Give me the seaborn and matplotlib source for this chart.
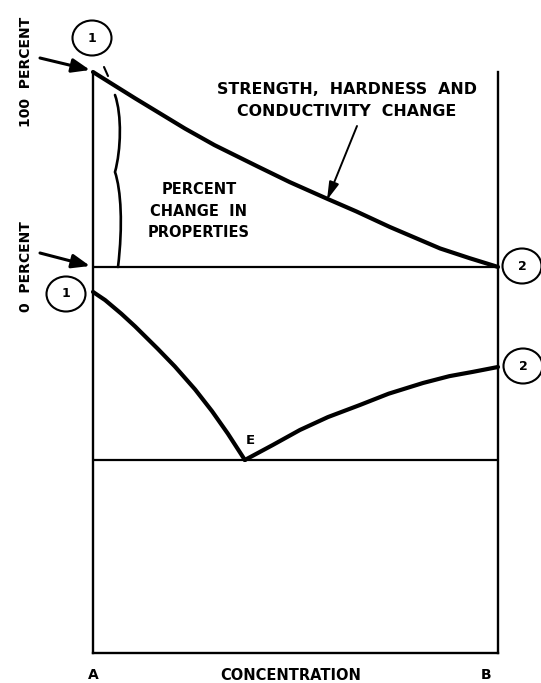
import matplotlib
matplotlib.use("Agg")
import matplotlib.pyplot as plt
from matplotlib.patches import Ellipse, PathPatch
from matplotlib.path import Path
from matplotlib.lines import Line2D
import matplotlib.transforms as mtransforms
import seaborn as sns
import pandas as pd

# ---- data (concentration in % of B, property / temperature in chart units) ----
conc_property = [0, 5, 10.4, 22.7, 30, 40.7, 48.6, 57.8, 65, 73.3, 85.7, 93, 100]
change_property = [100, 93.5, 86.5, 71, 62.5, 51.5, 43.5, 35, 28.5, 20.5, 9.5, 4.5, 0]

conc_liquidus_a = [0, 3, 7, 10.4, 16, 20.2, 25.2, 29.4, 33.3, 37.5]
temp_liquidus_a = [-12.8, -17, -24, -30.5, -42, -51, -62.8, -74, -85.5, -99]

conc_liquidus_b = [37.5, 44.4, 51.1, 58, 65.9, 73, 81.5, 88, 93.8, 100]
temp_liquidus_b = [-99, -91.3, -83.6, -77, -70.8, -65, -59.5, -56, -53.8, -51.3]

y_ticks = [0, 100]
y_tick_labels = ["0  PERCENT", "100  PERCENT"]
x_ticks = [0, 100]
x_tick_labels = ["A", "B"]
x_label = "CONCENTRATION"
y_range = (-198, 100)

W, H = 541, 683

sns.set_theme(style="white")
plt.rcParams["font.family"] = ["DejaVu Sans"]
plt.rcParams["font.weight"] = "bold"
plt.rcParams["text.color"] = "black"
plt.rcParams["axes.labelcolor"] = "black"
plt.rcParams["xtick.color"] = "black"
plt.rcParams["ytick.color"] = "black"

fig = plt.figure(figsize=(W / 100, H / 100), dpi=100)
fig.patch.set_facecolor("white")
ax = fig.add_axes([93 / W, 30 / H, 405 / W, 581 / H])
ax.set_facecolor("white")


def fxy(px, py):
    """pixel position (from top-left) -> figure fraction"""
    return (px / W, 1 - py / H)


df_prop = pd.DataFrame({"conc": conc_property, "val": change_property})
df_a = pd.DataFrame({"conc": conc_liquidus_a, "val": temp_liquidus_a})
df_b = pd.DataFrame({"conc": conc_liquidus_b, "val": temp_liquidus_b})

for d in (df_prop, df_a, df_b):
    sns.lineplot(data=d, x="conc", y="val", ax=ax, color="black", lw=3.0,
                 sort=False, solid_capstyle="round", solid_joinstyle="round",
                 zorder=5, clip_on=False)

# reference levels: 0 percent and the eutectic temperature
ax.axhline(change_property[-1], color="black", lw=1.6, zorder=3)
ax.axhline(temp_liquidus_a[-1], color="black", lw=1.6, zorder=3)

ax.set_xlim(x_ticks[0], x_ticks[-1])
ax.set_ylim(*y_range)
ax.set_ylabel("")

for side in ("left", "right", "bottom"):
    ax.spines[side].set_visible(True)
    ax.spines[side].set_color("black")
    ax.spines[side].set_linewidth(1.7)
ax.spines["top"].set_visible(False)

ax.set_xticks(x_ticks)
ax.set_xticklabels(x_tick_labels, fontsize=10, fontweight="bold")
ax.set_yticks(y_ticks)
ax.set_yticklabels(y_tick_labels, fontsize=10, fontweight="bold",
                   rotation=90, va="center")
ax.tick_params(axis="x", length=0, pad=11)
ax.tick_params(axis="y", length=0, pad=43)
# nudge the B label inward
lbl_b = ax.get_xticklabels()[-1]
lbl_b.set_transform(lbl_b.get_transform() +
                    mtransforms.ScaledTranslation(-12 / 100, 0, fig.dpi_scale_trans))
ax.set_xlabel(x_label, fontsize=10.5, fontweight="bold")
ax.xaxis.label.set_va("center")
ax.xaxis.set_label_coords((291 - 93) / 405, -(675 - 653) / 581)

# text annotations
fig.text(*fxy(347, 89), "STRENGTH,  HARDNESS  AND", ha="center", va="center",
         fontsize=11.4, fontweight="bold")
fig.text(*fxy(347, 112), "CONDUCTIVITY  CHANGE", ha="center", va="center",
         fontsize=11.4, fontweight="bold")
for txt, py in (("PERCENT", 189), ("CHANGE  IN", 211), ("PROPERTIES", 233)):
    fig.text(*fxy(199, py), txt, ha="center", va="center",
             fontsize=10.5, fontweight="bold")
fig.text(*fxy(250, 440), "E", ha="center", va="center", fontsize=9.5,
         fontweight="bold")

# pointer from the caption to the property curve
ax.annotate("", xy=fxy(327, 200), xytext=fxy(357, 126),
            xycoords="figure fraction", textcoords="figure fraction",
            arrowprops=dict(arrowstyle="-|>,head_length=0.9,head_width=0.25",
                            color="black", lw=1.4, shrinkA=0, shrinkB=0))

# arrows marking the 100 % and 0 % levels
for (x0, y0), (x1, y1) in (((40, 58), (90, 70)), ((40, 253), (90, 266))):
    ax.annotate("", xy=fxy(x1, y1), xytext=fxy(x0, y0),
                xycoords="figure fraction", textcoords="figure fraction",
                arrowprops=dict(arrowstyle="-|>,head_length=0.9,head_width=0.35",
                                color="black", lw=2.2, shrinkA=0, shrinkB=0))

# numbered circles at the pure-metal ends
for (cx, cy), num in (((92, 38), "1"), ((66, 294), "1"),
                      ((522, 266), "2"), ((523, 366), "2")):
    fig.patches.append(Ellipse(fxy(cx, cy), 39 / W, 35 / H,
                               transform=fig.transFigure, fill=False,
                               edgecolor="black", lw=1.5))
    fig.text(*fxy(cx, cy), num, ha="center", va="center", fontsize=9,
             fontweight="bold")

# brace spanning the percent change (smooth bezier)
brace_pts = [(115, 95),
             (122, 115), (121, 150), (115, 172),
             (121, 190), (123, 225), (118, 267)]
brace_codes = [Path.MOVETO, Path.CURVE4, Path.CURVE4, Path.CURVE4,
               Path.CURVE4, Path.CURVE4, Path.CURVE4]
brace_path = Path([fxy(*p) for p in brace_pts], brace_codes)
fig.patches.append(PathPatch(brace_path, transform=fig.transFigure,
                             fill=False, edgecolor="black", lw=1.9,
                             capstyle="round"))
tick = [fxy(104, 67), fxy(108, 76)]
fig.lines.append(Line2D([tick[0][0], tick[1][0]], [tick[0][1], tick[1][1]],
                        transform=fig.transFigure, color="black", lw=1.5))

fig.savefig("out.png", dpi=100, facecolor="white")
